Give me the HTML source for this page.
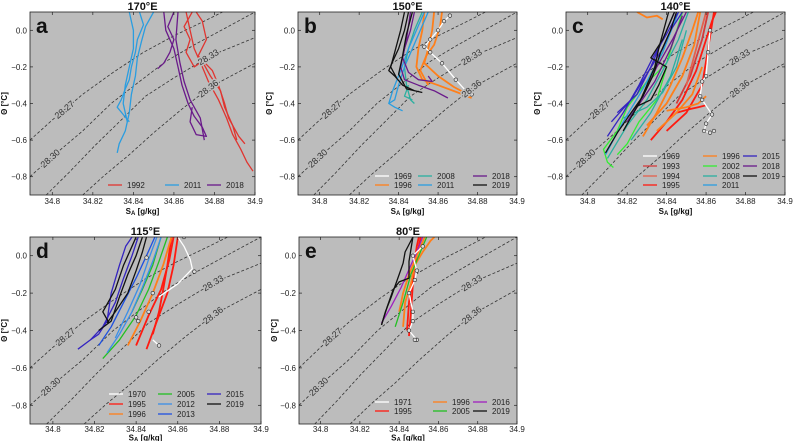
<!DOCTYPE html>
<html><head><meta charset="utf-8">
<style>
html,body{margin:0;padding:0;background:#fff;}
svg{display:block;font-family:"Liberation Sans","DejaVu Sans",sans-serif;}
</style></head>
<body>
<svg id="fig" width="793" height="441" viewBox="0 0 793 441" xmlns="http://www.w3.org/2000/svg"></svg>
<script>
// ---------- shared axis data ----------
const xTicks = [34.8, 34.82, 34.84, 34.86, 34.88, 34.9];
const xTickLabels = ["34.8", "34.82", "34.84", "34.86", "34.88", "34.9"];
const yTicks = [0.0, -0.2, -0.4, -0.6, -0.8];
const yTickLabels = ["0.0", "\u22120.2", "\u22120.4", "\u22120.6", "\u22120.8"];
const xDomain = [34.789, 34.9];
const yDomain = [-0.9, 0.1];

// isopycnals (S, theta)
const isoNames = ["28.27", "28.30", "28.33", "28.36"];
const isoS = [
  [34.789,34.80,34.815,34.83,34.845,34.86,34.875,34.884],
  [34.789,34.80,34.815,34.829,34.843,34.856,34.87,34.885,34.9],
  [34.797,34.808,34.821,34.834,34.846,34.86,34.878,34.9],
  [34.815,34.826,34.838,34.85,34.864,34.878,34.9]
];
const isoT = [
  [-0.6,-0.49,-0.35,-0.23,-0.12,-0.03,0.05,0.1],
  [-0.8,-0.69,-0.55,-0.40,-0.28,-0.17,-0.08,0.01,0.1],
  [-0.9,-0.78,-0.63,-0.49,-0.36,-0.26,-0.14,-0.04],
  [-0.9,-0.79,-0.68,-0.56,-0.43,-0.31,-0.18]
];
const isoLabelS = [34.806, 34.799, 34.877, 34.877];

// year colours
const yearColors = {"1969":"#ffffff","1970":"#ffffff","1971":"#ffffff","1992":"#e03530","1993":"#d43a3a","1994":"#e4604c","1995":"#ff1a10","1996":"#ff7f1a","2002":"#33ee33","2005":"#22c022","2008":"#2ab0a0","2011":"#2a9de0","2012":"#3a8ee8","2013":"#1e50e0","2015":"#3424c0","2016":"#a020c0","2018":"#6a1a8a","2019":"#111111"};

// ---------- panel a: 170°E ----------
const aYears = ["1992","2011","2018"];
const aLineYear = [0,0,0,1,1,1,2,2,2];
const aLineS = [
 [34.866,34.868,34.870,34.874,34.877,34.882,34.886,34.889,34.893,34.896,34.899],
 [34.869,34.865,34.868,34.866,34.870,34.874,34.878,34.883,34.885,34.889,34.891],
 [34.871,34.874,34.876,34.872,34.879,34.882,34.885,34.887,34.892,34.895],
 [34.843,34.845,34.842,34.841,34.839,34.838,34.836,34.834,34.832,34.835,34.838],
 [34.850,34.846,34.844,34.842,34.841,34.839,34.838,34.836,34.833,34.832],
 [34.838,34.840,34.840,34.838,34.836,34.835,34.837],
 [34.860,34.857,34.860,34.858,34.855,34.852],
 [34.855,34.856,34.860,34.862,34.864,34.867,34.870,34.874,34.876,34.871,34.868,34.869],
 [34.862,34.861,34.863,34.865,34.868,34.873,34.875]
];
const aLineT = [
 [0.1,0.0,-0.1,-0.2,-0.28,-0.38,-0.48,-0.57,-0.65,-0.72,-0.77],
 [0.1,0.02,-0.05,-0.12,-0.2,-0.17,-0.25,-0.33,-0.42,-0.52,-0.6],
 [0.1,0.05,-0.05,-0.14,-0.22,-0.3,-0.4,-0.48,-0.58,-0.62],
 [0.1,0.03,-0.05,-0.12,-0.2,-0.27,-0.32,-0.38,-0.42,-0.46,-0.5],
 [0.1,0.02,-0.06,-0.15,-0.25,-0.35,-0.45,-0.55,-0.62,-0.67],
 [0.1,0.0,-0.1,-0.2,-0.3,-0.4,-0.5],
 [0.1,0.02,-0.05,-0.12,-0.18,-0.21],
 [0.1,0.0,-0.1,-0.2,-0.3,-0.4,-0.47,-0.53,-0.58,-0.57,-0.5,-0.42],
 [0.1,-0.05,-0.18,-0.28,-0.38,-0.48,-0.6]
];

// ---------- panel b: 150°E ----------
const bYears = ["1969","1996","2008","2011","2018","2019"];
const bLineYear = [1,1,1,2,2,3,3,4,4,5,5,5,0];
const bLineS = [
 [34.853,34.852,34.850,34.849,34.852,34.860,34.870,34.877],
 [34.858,34.857,34.855,34.853,34.860,34.868,34.875],
 [34.862,34.861,34.858,34.854,34.851,34.855],
 [34.852,34.848,34.845,34.843,34.844,34.846,34.848],
 [34.845,34.843,34.847],
 [34.855,34.851,34.847,34.843,34.840,34.838,34.835,34.838,34.842],
 [34.853,34.849,34.845,34.841,34.837,34.835],
 [34.848,34.846,34.843,34.841,34.843,34.850,34.858,34.865],
 [34.846,34.844,34.842,34.845,34.850,34.857,34.855],
 [34.845,34.843,34.840,34.837,34.835,34.838,34.842,34.848],
 [34.843,34.841,34.838,34.836,34.839],
 [34.847,34.844,34.842,34.840,34.844,34.852],
 [34.866,34.863,34.860,34.856,34.853,34.856,34.862,34.869,34.874,34.877]
];
const bLineT = [
 [0.1,0.0,-0.1,-0.2,-0.27,-0.3,-0.34,-0.37],
 [0.1,0.0,-0.1,-0.18,-0.25,-0.31,-0.35],
 [0.1,0.02,-0.08,-0.14,-0.22,-0.3],
 [0.1,0.0,-0.1,-0.2,-0.3,-0.38,-0.4],
 [-0.3,-0.36,-0.38],
 [0.1,0.0,-0.1,-0.2,-0.3,-0.38,-0.4,-0.42,-0.44],
 [0.1,0.0,-0.1,-0.22,-0.33,-0.4],
 [0.1,0.0,-0.1,-0.2,-0.27,-0.3,-0.33,-0.37],
 [0.1,-0.05,-0.15,-0.23,-0.27,-0.28,-0.25],
 [0.1,0.0,-0.1,-0.17,-0.22,-0.25,-0.3,-0.33],
 [0.1,0.0,-0.12,-0.2,-0.26],
 [0.1,-0.02,-0.14,-0.24,-0.32,-0.34],
 [0.08,0.05,0.0,-0.05,-0.09,-0.12,-0.18,-0.27,-0.33,-0.35]
];

// ---------- panel c: 140°E ----------
const cYears = ["1969","1993","1994","1995","1996","2002","2008","2011","2015","2018","2019"];
const cLineYear = [1,2,3,3,3,4,4,4,4,4,5,5,5,6,6,6,7,8,8,8,9,9,10,10,10,0];
const cLineS = [
 [34.845,34.852,34.858,34.861],
 [34.85,34.855,34.86],
 [34.832,34.84,34.848,34.855,34.86,34.863,34.865],
 [34.84,34.85,34.858,34.861,34.864],
 [34.845,34.852,34.856,34.86],
 [34.828,34.835,34.842,34.848,34.853,34.856],
 [34.83,34.84,34.848,34.854,34.857],
 [34.835,34.845,34.853,34.858],
 [34.825,34.83,34.835,34.838],
 [34.84,34.85,34.856,34.86],
 [34.813,34.810,34.808,34.815,34.82,34.83,34.838,34.844],
 [34.815,34.82,34.826,34.835,34.84],
 [34.826,34.84,34.848],
 [34.810,34.820,34.830,34.838,34.846,34.851],
 [34.822,34.832,34.842,34.848],
 [34.818,34.83,34.838,34.845,34.85],
 [34.809,34.818,34.828,34.838,34.846],
 [34.810,34.818,34.826,34.833,34.840,34.846],
 [34.812,34.822,34.831,34.838,34.842,34.848],
 [34.815,34.825,34.832,34.838,34.844],
 [34.820,34.828,34.835,34.843,34.850],
 [34.825,34.834,34.842,34.848],
 [34.809,34.815,34.822,34.828,34.833,34.837,34.842,34.845],
 [34.818,34.826,34.830,34.834,34.836,34.841],
 [34.824,34.832,34.836,34.840,34.832,34.838,34.844],
 [34.862,34.861,34.860,34.858,34.857,34.858,34.863,34.860,34.859,34.862,34.864]
];
const cLineT = [
 [-0.4,-0.25,-0.05,0.1],
 [-0.3,-0.1,0.1],
 [-0.6,-0.5,-0.38,-0.22,-0.05,0.05,0.1],
 [-0.55,-0.45,-0.3,-0.1,0.1],
 [-0.45,-0.43,-0.42,-0.41],
 [-0.58,-0.45,-0.3,-0.15,0.0,0.1],
 [-0.52,-0.4,-0.25,-0.08,0.1],
 [-0.55,-0.45,-0.35,-0.2],
 [0.1,0.07,0.08,0.06],
 [-0.44,-0.42,-0.4,-0.36],
 [-0.75,-0.72,-0.65,-0.55,-0.42,-0.28,-0.12,0.05],
 [-0.68,-0.62,-0.5,-0.38,-0.2],
 [-0.33,-0.18,0.1],
 [-0.7,-0.52,-0.38,-0.22,-0.05,0.1],
 [-0.6,-0.45,-0.25,-0.05],
 [-0.48,-0.42,-0.34,-0.2,0.0],
 [-0.68,-0.5,-0.32,-0.12,0.1],
 [-0.58,-0.45,-0.3,-0.15,-0.02,0.1],
 [-0.50,-0.38,-0.22,-0.1,0.0,0.1],
 [-0.45,-0.35,-0.2,-0.05,0.1],
 [-0.5,-0.36,-0.2,-0.05,0.1],
 [-0.42,-0.28,-0.1,0.08],
 [-0.67,-0.56,-0.45,-0.36,-0.25,-0.12,0.0,0.1],
 [-0.55,-0.4,-0.3,-0.2,-0.1,0.1],
 [-0.42,-0.38,-0.3,-0.2,-0.15,-0.05,0.1],
 [0.0,-0.12,-0.25,-0.28,-0.36,-0.38,-0.46,-0.51,-0.55,-0.56,-0.55]
];

// ---------- panel d: 115°E ----------
const dYears = ["1970","1995","1996","2005","2012","2013","2015","2019"];
const dLineYear = [1,1,1,2,3,3,4,4,5,6,6,7,7,7,0,0];
const dLineS = [
 [34.845,34.85,34.855,34.858,34.86],
 [34.84,34.846,34.852,34.856,34.858],
 [34.848,34.851,34.853,34.855,34.857],
 [34.836,34.842,34.848,34.853,34.857],
 [34.824,34.832,34.840,34.846,34.851,34.855],
 [34.838,34.843,34.848,34.852],
 [34.826,34.832,34.838,34.843,34.848,34.852],
 [34.83,34.836,34.842,34.846,34.85],
 [34.822,34.828,34.834,34.84,34.845,34.849],
 [34.812,34.818,34.824,34.830,34.834,34.838,34.841],
 [34.818,34.822,34.826,34.828,34.832,34.835,34.838],
 [34.822,34.828,34.832,34.836,34.840,34.843],
 [34.826,34.830,34.836,34.840,34.843,34.845],
 [34.827,34.824,34.830,34.834,34.838,34.84],
 [34.860,34.863,34.866,34.867,34.860,34.851],
 [34.848,34.851]
];
const dLineT = [
 [-0.5,-0.35,-0.2,-0.05,0.1],
 [-0.48,-0.32,-0.18,-0.02,0.1],
 [-0.42,-0.3,-0.18,-0.05,0.1],
 [-0.48,-0.35,-0.2,-0.05,0.1],
 [-0.55,-0.45,-0.32,-0.18,-0.03,0.1],
 [-0.3,-0.18,-0.05,0.1],
 [-0.52,-0.42,-0.3,-0.17,-0.03,0.1],
 [-0.44,-0.3,-0.15,-0.02,0.1],
 [-0.48,-0.38,-0.25,-0.12,0.0,0.1],
 [-0.5,-0.45,-0.38,-0.25,-0.12,0.0,0.1],
 [-0.45,-0.42,-0.35,-0.2,-0.05,0.05,0.1],
 [-0.4,-0.35,-0.22,-0.1,0.0,0.1],
 [-0.36,-0.3,-0.2,-0.08,0.02,0.1],
 [-0.36,-0.3,-0.18,-0.05,0.05,0.1],
 [0.1,0.05,-0.02,-0.07,-0.15,-0.22],
 [-0.45,-0.48]
];
const dMarkS = [34.863,34.868,34.845,34.848,34.840,34.841,34.846,34.851];
const dMarkT = [0.1,-0.085,-0.01,-0.2,-0.33,-0.35,-0.3,-0.48];

// ---------- panel e: 80°E ----------
const eYears = ["1971","1995","1996","2005","2016","2019"];
const eLineYear = [1,1,2,2,3,4,5,5,0];
const eLineS = [
 [34.845,34.846,34.847,34.848,34.849,34.85],
 [34.844,34.845,34.847,34.849,34.851],
 [34.842,34.843,34.846,34.848,34.852,34.856,34.858],
 [34.84,34.842,34.845,34.849,34.853],
 [34.838,34.842,34.846,34.850,34.854],
 [34.831,34.836,34.841,34.846,34.849,34.852],
 [34.831,34.833,34.836,34.838,34.840,34.842,34.843,34.845,34.847],
 [34.831,34.834,34.837,34.84,34.845,34.845,34.847],
 [34.852,34.847,34.849,34.848,34.845,34.847,34.847,34.845,34.849,34.848]
];
const eLineT = [
 [-0.43,-0.3,-0.15,-0.02,0.05,0.1],
 [-0.4,-0.25,-0.1,0.0,0.1],
 [-0.38,-0.25,-0.15,-0.05,0.02,0.08,0.1],
 [-0.3,-0.2,-0.1,0.0,0.1],
 [-0.38,-0.25,-0.1,0.0,0.1],
 [-0.36,-0.27,-0.17,-0.05,0.02,0.1],
 [-0.37,-0.3,-0.22,-0.16,-0.1,-0.04,0.02,0.06,0.1],
 [-0.37,-0.27,-0.18,-0.14,-0.12,-0.03,0.1],
 [0.05,0.0,-0.08,-0.13,-0.2,-0.3,-0.35,-0.4,-0.45,-0.45]
];

// ---------- layout (positions only) ----------
const panels = [
 {id:"a", title:"170\u00b0E", L:30,R:255,T:12,B:195, years:aYears, ly:aLineYear, ls:aLineS, lt:aLineT, markWhite:false,
  leg:{rows:[185], cols:[108,165,207], order:[[0],[1],[2]]}, ytx:7, tkOff:9, xtOff:19},
 {id:"b", title:"150\u00b0E", L:298,R:517,T:12,B:195, years:bYears, ly:bLineYear, ls:bLineS, lt:bLineT, markWhite:true,
  leg:{rows:[176,185], cols:[375,418,473], order:[[0,1],[2,3],[4,5]]}, ytx:272, tkOff:9, xtOff:19},
 {id:"c", title:"140\u00b0E", L:566,R:785,T:12,B:195, years:cYears, ly:cLineYear, ls:cLineS, lt:cLineT, markWhite:true,
  leg:{rows:[156,166,176,185], cols:[643,703,743], order:[[0,1,2,3],[4,5,6,7],[8,9,10]]}, ytx:540, tkOff:9, xtOff:19},
 {id:"d", title:"115\u00b0E", L:30,R:261,T:237,B:424, years:dYears, ly:dLineYear, ls:dLineS, lt:dLineT, markWhite:false,
  leg:{rows:[394,404,414], cols:[109,158,207], order:[[0,1,2],[3,4,5],[6,7]]}, ytx:7, tkOff:8, xtOff:16.5},
 {id:"e", title:"80\u00b0E", L:299,R:517,T:237,B:424, years:eYears, ly:eLineYear, ls:eLineS, lt:eLineT, markWhite:true,
  leg:{rows:[402,411], cols:[375,433,473], order:[[0,1],[2,3],[4,5]]}, ytx:277, tkOff:8, xtOff:16.5}
];

const NS = "http://www.w3.org/2000/svg";
const fig = document.getElementById("fig");
function mk(tag, attrs, parent){ const e=document.createElementNS(NS,tag); for(const k in attrs) e.setAttribute(k,attrs[k]); (parent||fig).appendChild(e); return e; }

const defs = mk("defs",{});
panels.forEach(p=>{
  const sx = s => p.L + (s - xDomain[0])/(xDomain[1]-xDomain[0])*(p.R-p.L);
  const ty = t => p.T + (yDomain[1]-t)/(yDomain[1]-yDomain[0])*(p.B-p.T);
  const g = mk("g",{});
  
  
  const cp = mk("clipPath",{id:"clip-"+p.id}, defs);
  mk("rect",{x:p.L,y:p.T,width:p.R-p.L,height:p.B-p.T}, cp);
  const bg = mk("rect",{x:p.L,y:p.T,width:p.R-p.L,height:p.B-p.T,fill:"#bcbcbc"}, g);
  
  
  const inner = mk("g",{"clip-path":"url(#clip-"+p.id+")"}, g);
  isoS.forEach((arr,i)=>{
    const pts = arr.map((s,j)=>sx(s).toFixed(1)+","+ty(isoT[i][j]).toFixed(1)).join(" ");
    const pl = mk("polyline",{points:pts,fill:"none",stroke:"#333","stroke-width":0.8,"stroke-dasharray":"3,2"}, inner);
    
    
  });
  p.ls.forEach((arr,i)=>{
    const yr = p.years[p.ly[i]];
    const pts = arr.map((s,j)=>sx(s).toFixed(1)+","+ty(p.lt[i][j]).toFixed(1)).join(" ");
    const isRO = (yr==="1995"||yr==="1996"||yr==="1993"||yr==="1994");
    const pl = mk("polyline",{points:pts,fill:"none",stroke:yearColors[yr],"stroke-width":isRO?1.8:1.3,"stroke-linejoin":"round"}, inner);
    
    
    if (p.markWhite && (yr==="1969"||yr==="1971")) {
      arr.forEach((s,j)=>{
        const c = mk("circle",{cx:sx(s),cy:ty(p.lt[i][j]),r:1.8,fill:"#ddd",stroke:"#222","stroke-width":0.6}, inner);
        
        
      });
    }
  });
  if (p.id==="d") {
    dMarkS.forEach((s,j)=>{
      const c = mk("circle",{cx:sx(s),cy:ty(dMarkT[j]),r:1.8,fill:"#ddd",stroke:"#222","stroke-width":0.6}, inner);
      
      
    });
  }
  isoNames.forEach((nm,i)=>{
    const s0 = isoLabelS[i];
    const arr = isoS[i], tarr = isoT[i];
    let k=0; while(k<arr.length-2 && arr[k+1]<s0) k++;
    const f = (s0-arr[k])/(arr[k+1]-arr[k]);
    const t0 = tarr[k]+f*(tarr[k+1]-tarr[k]);
    const ang = Math.atan2(ty(tarr[k+1])-ty(tarr[k]), sx(arr[k+1])-sx(arr[k]))*180/Math.PI;
    const x=sx(s0), y=ty(t0);
    const tx = mk("text",{x:x,y:y+3,"font-size":9,fill:"#333","text-anchor":"middle",stroke:"#bcbcbc","stroke-width":3,"paint-order":"stroke",transform:"rotate("+ang.toFixed(1)+" "+x.toFixed(1)+" "+y.toFixed(1)+")"}, inner);
    tx.textContent = nm;
    
    
  });
  mk("rect",{x:p.L,y:p.T,width:p.R-p.L,height:p.B-p.T,fill:"none",stroke:"#222","stroke-width":0.8}, g);
  xTicks.forEach((v,i)=>{
    const x=sx(v);
    mk("line",{x1:x,x2:x,y1:p.B,y2:p.B-3,stroke:"#222","stroke-width":0.7}, g);
    mk("line",{x1:x,x2:x,y1:p.T,y2:p.T+3,stroke:"#222","stroke-width":0.7}, g);
    const t = mk("text",{x:x,y:p.B+p.tkOff,"font-size":8,fill:"#222","text-anchor":"middle"}, g);
    t.textContent = xTickLabels[i];
    
    
  });
  yTicks.forEach((v,i)=>{
    const y=ty(v);
    mk("line",{x1:p.L,x2:p.L+3,y1:y,y2:y,stroke:"#222","stroke-width":0.7}, g);
    mk("line",{x1:p.R,x2:p.R-3,y1:y,y2:y,stroke:"#222","stroke-width":0.7}, g);
    const t = mk("text",{x:p.L-3,y:y+3,"font-size":8,fill:"#222","text-anchor":"end"}, g);
    t.textContent = yTickLabels[i];
    
    
  });
  const ti = mk("text",{x:(p.L+p.R)/2,y:p.T-2,"font-size":11,"font-weight":"bold",fill:"#111","text-anchor":"middle"}, g);
  ti.textContent = p.title;
  
  
  const le = mk("text",{x:p.L+6,y:p.T+21,"font-size":21,"font-weight":"bold",fill:"#111"}, g);
  le.textContent = p.id;
  
  
  const xt = mk("text",{x:(p.L+p.R)/2,y:p.B+p.xtOff,"font-size":8,"font-weight":"bold",fill:"#111","text-anchor":"middle"}, g);
  xt.innerHTML = 'S<tspan font-size="6" dy="1">A</tspan><tspan dy="-1"> [g/kg]</tspan>';
  
  
  const yc = (p.T+p.B)/2;
  const yt = mk("text",{x:p.ytx,y:yc,"font-size":8,"font-weight":"bold",fill:"#111","text-anchor":"middle",transform:"rotate(-90 "+p.ytx+" "+yc+")"}, g);
  yt.textContent = "\u0398 [\u00b0C]";
  
  
  p.leg.order.forEach((col,ci)=>{
    col.forEach((yi,ri)=>{
      const yr = p.years[yi];
      const x0 = p.leg.cols[ci], y0 = p.leg.rows[ri];
      const lg = mk("g",{}, g);
      
      
      mk("line",{x1:x0,x2:x0+14,y1:y0,y2:y0,stroke:yearColors[yr],"stroke-width":1.3}, lg);
      const t = mk("text",{x:x0+19,y:y0+3,"font-size":8,fill:"#222"}, lg);
      t.textContent = yr;
    });
  });
});
</script>
</body></html>
